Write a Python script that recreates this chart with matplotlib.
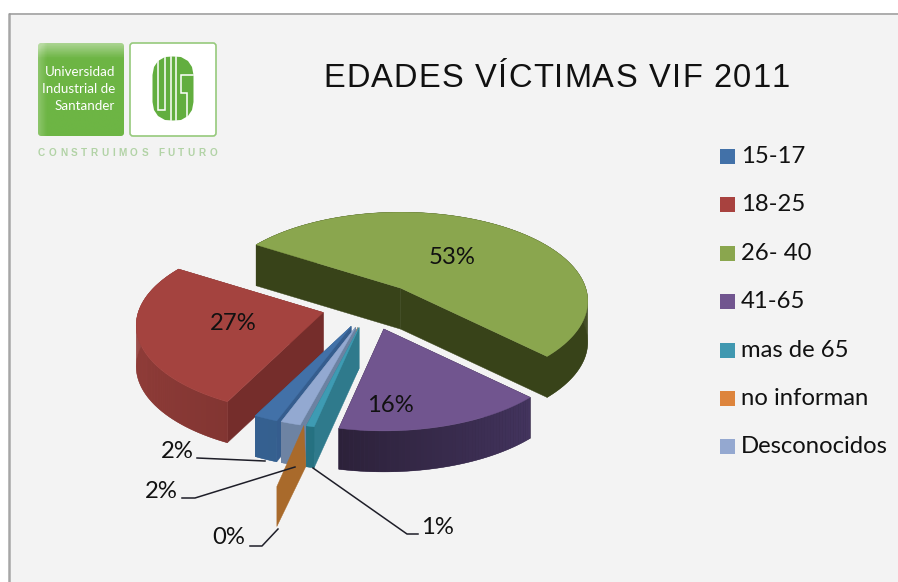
import numpy as np
from matplotlib import pyplot as plt
from matplotlib.colors import LinearSegmentedColormap, to_rgb
from matplotlib.patches import FancyBboxPatch, Polygon, Rectangle

# Data
categories = ['15-17', '18-25', '26- 40', '41-65', 'mas de 65', 'no informan', 'Desconocidos']
shares = [1.8, 26.6, 53.4, 15.9, 0.6, 0.2, 1.5]
title = 'EDADES VÍCTIMAS VIF 2011'
logo_lines = ['Universidad', 'Industrial de', 'Santander']
logo_slogan = 'CONSTRUIMOS FUTURO'

# Colours, same order as the categories
top_colors = ['#4271A8', '#A4433F', '#8AA64E', '#71558F', '#3E9BB3', '#8E8A7C', '#93A9D1']
radial_colors = ['#355D8E', '#752D2B', '#384319', '#2C2139', '#2F7A8C', '#8E8A7C', '#6C82A2']
arc_start_colors = ['#335E8C', '#7A312E', '#384319', '#2C2139', '#24707F', '#8E8A7C', '#6C82A2']
arc_end_colors = ['#3A659A', '#96403C', '#384319', '#43345E', '#2F7A8C', '#8E8A7C', '#7388A8']
legend_colors = ['#4271A8', '#A8423F', '#8AA64E', '#71558F', '#4098B0', '#DD843C', '#94A8D0']
tail_color = '#A96A2B'

# Pie geometry in pixels
center_x, center_y = 369.5, 306.5
radius_x, radius_y = 185, 87
perspective = 0.146
depth = 41
start_angle = 110.3
explode = [46, 48, 50, 50, 46, 46, 46]
squash = 0.47
draw_order = [2, 1, 3, 5, 0, 6, 4]


def project(angle, apex):
    rad = np.radians(angle)
    f = 1 / (1 - perspective * np.sin(rad))
    return apex[0] + radius_x * np.cos(rad) * f, apex[1] + radius_y * np.sin(rad) * f


def draw_wedge(ax, i, a0, a1):
    mid = np.radians((a0 + a1) / 2)
    apex = (center_x + explode[i] * np.cos(mid), center_y + explode[i] * squash * np.sin(mid))
    angles = np.linspace(a0, a1, max(int(a1 - a0) + 2, 3))
    arc = [project(a, apex) for a in angles]

    # Flat cut faces
    for edge in (arc[0], arc[-1]):
        face = [apex, edge, (edge[0], edge[1] + depth), (apex[0], apex[1] + depth)]
        ax.add_patch(Polygon(face, facecolor=radial_colors[i], edgecolor=radial_colors[i], lw=0.3))

    # Rim: a flat base first so the strips leave no seams
    lower = [(x, y + depth) for x, y in arc]
    base = np.mean([to_rgb(arc_start_colors[i]), to_rgb(arc_end_colors[i])], axis=0)
    ax.add_patch(Polygon(arc + lower[::-1], facecolor=base, edgecolor=base, lw=0.3))
    for k in range(len(arc) - 1):
        if i == 3:
            t = (a1 - angles[k]) / (a1 - a0)
        else:
            t = min(abs(angles[k] % 360 - 90) / 90, 1)
        color = np.array(to_rgb(arc_start_colors[i])) * (1 - t) + np.array(to_rgb(arc_end_colors[i])) * t
        p, q = arc[k], arc[k + 1]
        ax.add_patch(Polygon([p, q, lower[k + 1], lower[k]], facecolor=color, edgecolor='none', lw=0))

    ax.add_patch(Polygon([apex] + arc, facecolor=top_colors[i], edgecolor=top_colors[i], lw=0.3))
    return project((a0 + a1) / 2, apex)


def draw_pie(ax):
    # Slices run clockwise on screen, y axis points down
    stops = start_angle + np.cumsum([0] + [s * 3.6 for s in shares])
    tail_top = None
    for i in draw_order:
        outer = draw_wedge(ax, i, stops[i], stops[i + 1])
        if shares[i] < 0.5:
            tail_top = outer

    # The 0% slice renders as a long tail below the pie
    x, y = tail_top
    tail = [(x, y), (x + 2, y + depth), (x - 27, y + 101), (x - 27, y + 61)]
    ax.add_patch(Polygon(tail, facecolor=tail_color, edgecolor=tail_color, lw=0.3))


def spaced_text(ax, text, x0, x1, y, **kwargs):
    # Matplotlib has no letter spacing, so place the letters one at a time
    renderer = ax.figure.canvas.get_renderer()
    items = [ax.text(0, y, c, va='baseline', ha='left', **kwargs) for c in text]
    widths = []
    for c, item in zip(text, items):
        w = item.get_window_extent(renderer).width
        widths.append(w if c != ' ' else kwargs['fontsize'] * 0.4)
    gap = (x1 - x0 - sum(widths)) / (len(text) - 1)
    x = x0
    for item, w in zip(items, widths):
        item.set_x(x)
        x += w + gap


def draw_logo(ax):
    box = FancyBboxPatch((41, 46), 80, 87, boxstyle='round,pad=3', fc='none', ec='none')
    ax.add_patch(box)
    # Pale at the top and left, plain green elsewhere
    yy, xx = np.mgrid[0:1:60j, 0:1:60j]
    glow = np.clip(1 - yy / 0.16, 0, 1) * 0.8 + np.clip(1 - xx / 0.1, 0, 1) * 0.4
    cmap = LinearSegmentedColormap.from_list('logo', ['#6DB544', '#B8DBA2'])
    im = ax.imshow(glow, extent=(38, 124, 136, 43), cmap=cmap, vmin=0, vmax=1, aspect='auto', zorder=1.5)
    im.set_clip_path(box)
    ax.set_xlim(0, 898)
    ax.set_ylim(582, 0)

    ax.add_patch(FancyBboxPatch((133, 46), 80, 87, boxstyle='round,pad=3', fc='white', ec='#96C97C', lw=1.2))

    for line, y in zip(logo_lines, [72, 89, 106]):
        ax.text(115, y, line, color='white', fontsize=9.6, ha='right', va='center', family='Lato')

    emblem = [(165, 57), (173, 56.5), (181, 57), (188, 61), (192, 67), (193.5, 75), (193.5, 102), (192, 110),
              (188, 116), (181, 120), (173, 120.5), (165, 120), (158, 116), (154, 110), (152.5, 102),
              (152.5, 75), (154, 67), (158, 61)]
    ax.add_patch(Polygon(emblem, fc='#62AE3F', ec='none'))
    strokes = [([158, 158, 165, 165], [60, 110, 110, 57]),
               ([171, 171], [57, 120]),
               ([176, 176], [57, 120]),
               ([193, 181, 181, 187, 187], [75, 75, 93, 93, 117])]
    for xs, ys in strokes:
        ax.plot(xs, ys, color='white', lw=1.1, solid_joinstyle='miter')

    spaced_text(ax, logo_slogan, 38, 217, 156, color='#B2D3A6', fontsize=7.2, weight='bold',
                family='Liberation Sans')


def main():
    fig = plt.figure(figsize=(8.98, 5.82), dpi=100, facecolor='white')
    ax = fig.add_axes([0, 0, 1, 1])
    ax.set_xlim(0, 898)
    ax.set_ylim(582, 0)
    ax.axis('off')
    fig.canvas.draw()

    # Slide background and its frame
    ax.add_patch(Rectangle((9, 13), 889, 569, fc='#F3F3F3', ec='none'))
    ax.plot([9, 9], [13, 582], color='#A6A6A6', lw=1.8, solid_capstyle='butt')
    ax.plot([9, 898], [13.5, 13.5], color='#999999', lw=1.1, solid_capstyle='butt')

    draw_logo(ax)
    spaced_text(ax, title, 323, 790, 87, color='#111111', fontsize=23.5, family='Liberation Sans')

    draw_pie(ax)

    # Leader lines for the thin slices
    leaders = [([197, 265], [458, 461]),
               ([182, 195, 295], [498, 498, 467]),
               ([250, 262, 278], [546, 546, 529]),
               ([313, 407, 418], [468, 534, 534])]
    for xs, ys in leaders:
        ax.plot(xs, ys, color='#1E1E28', lw=1.1, zorder=4)

    # Data labels
    label_pos = [(177, 451), (233, 323), (452, 257), (390, 405), (437, 527), (229, 538), (161, 491)]
    for share, (x, y) in zip(shares, label_pos):
        ax.text(x, y, f'{round(share)}%', color='#111111', fontsize=17.2, ha='center', va='center',
                family='Lato')

    # Legend
    for i, name in enumerate(categories):
        y = 156.5 + i * 48.4
        ax.add_patch(Rectangle((720, y - 7.5), 15, 15, fc=legend_colors[i], ec='none'))
        ax.text(741, y, name, color='#111111', fontsize=17.2, ha='left', va='center', family='Lato')

    fig.savefig('out.png', dpi=100)


if __name__ == '__main__':
    main()
